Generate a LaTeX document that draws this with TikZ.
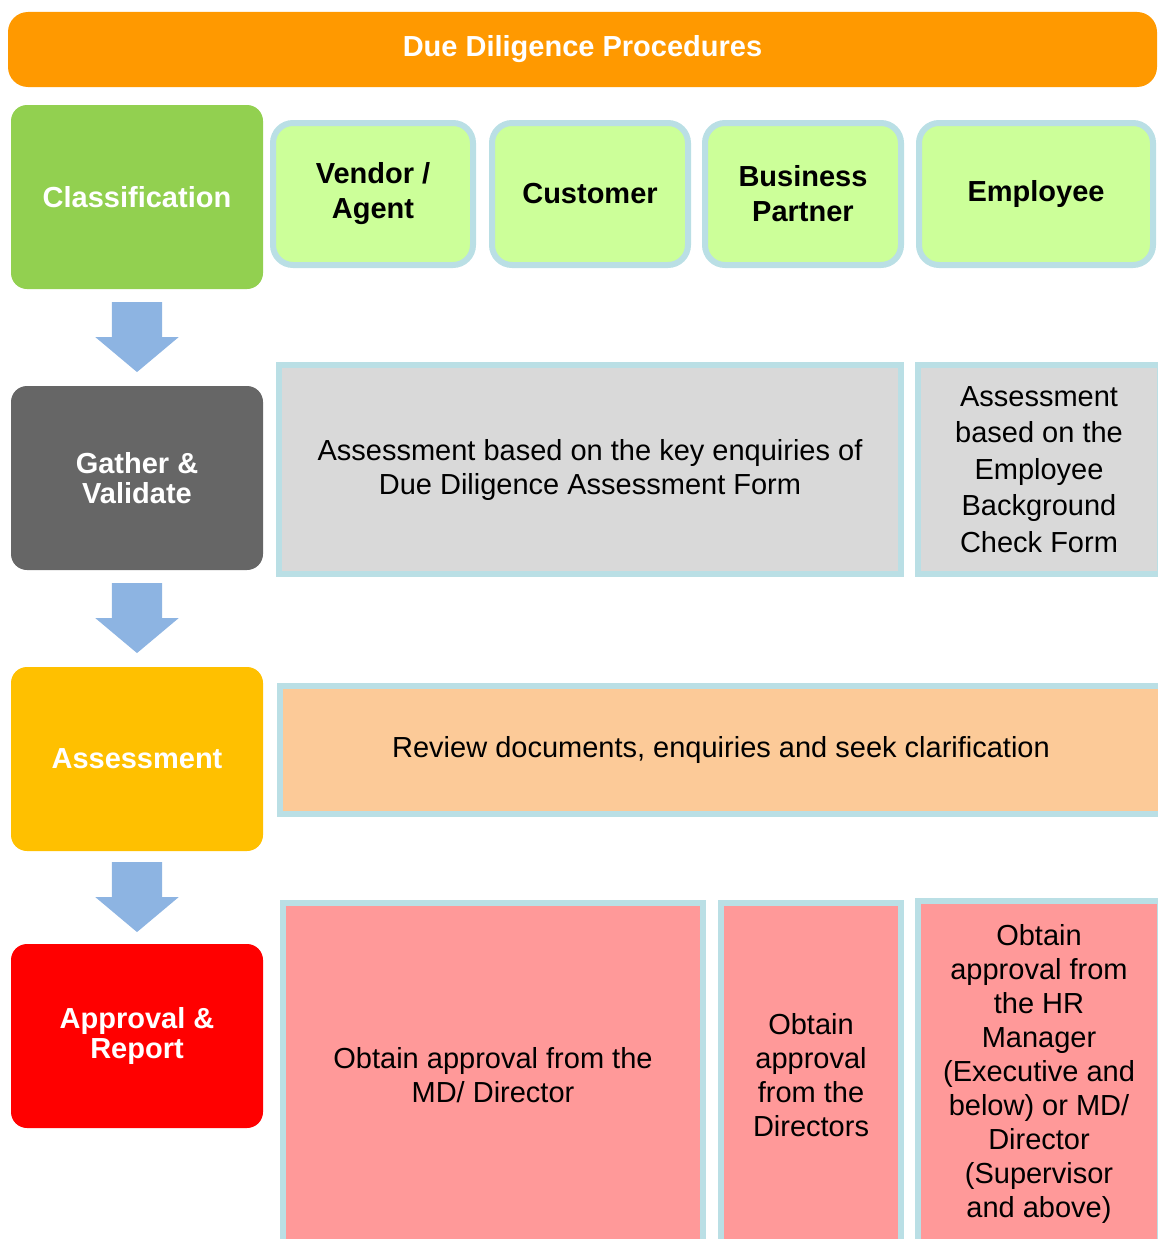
\documentclass[tikz,border=0pt]{standalone}
\usepackage{fontspec}
\setmainfont{Liberation Sans}
\usetikzlibrary{shapes.arrows,calc}

\definecolor{bannerorange}{RGB}{255,153,0}
\definecolor{stagegreen}{RGB}{146,208,80}
\definecolor{stagegrey}{RGB}{102,102,102}
\definecolor{stageamber}{RGB}{255,192,0}
\definecolor{stagered}{RGB}{255,0,0}
\definecolor{kindgreen}{RGB}{204,255,153}
\definecolor{edgeblue}{RGB}{186,223,229}
\definecolor{taskgrey}{RGB}{217,217,217}
\definecolor{taskpeach}{RGB}{252,202,152}
\definecolor{taskpink}{RGB}{255,153,153}
\definecolor{flowblue}{RGB}{141,180,226}

\tikzstyle{banner} = [ fill=bannerorange,rounded corners=20pt,text=white,
                       font=\bfseries\fontsize{29}{34}\selectfont,
                       minimum width=1149pt,minimum height=75pt]
\tikzstyle{stage}  = [ rounded corners=16pt,text=white,align=center,inner sep=0pt,
                       font=\bfseries\fontsize{29}{30}\selectfont,
                       minimum width=252pt,minimum height=184pt]
\tikzstyle{kind}   = [ draw=edgeblue,line width=6pt,fill=kindgreen,rounded corners=20pt,
                       align=center,inner sep=0pt,minimum height=142pt,
                       font=\bfseries\fontsize{29}{35}\selectfont]
\tikzstyle{task}   = [ draw=edgeblue,line width=6pt,align=center,inner sep=0pt,
                       font=\fontsize{29}{34}\selectfont]
\tikzstyle{flow}   = [ single arrow,fill=flowblue,rotate=-90,inner xsep=0pt,inner ysep=25pt,
                       minimum height=70pt,single arrow head extend=16.5pt,
                       single arrow tip angle=100]

\begin{document}
\begin{tikzpicture}[x=1pt,y=-1pt]
  \useasboundingbox (0,0) rectangle (1158,1239);
  \clip (0,0) rectangle (1158,1239);

  \node[banner] at (582.5,49.5) (title) {Due Diligence Procedures};

  \node[stage,fill=stagegreen] at (137,197)  (cls) {Classification};
  \node[stage,fill=stagegrey]  at (137,478)  (gat) {Gather \&\\ Validate};
  \node[stage,fill=stageamber] at (137,759)  (asm) {Assessment};
  \node[stage,fill=stagered]   at (137,1036) (apr) {Approval \&\\ Report};

  \node[kind,minimum width=200pt] at (373,194)  (ven) {Vendor /\\ Agent};
  \node[kind,minimum width=196pt] at (590,194)  (cus) {Customer};
  \node[kind,minimum width=196pt] at (803,194)  (bus) {Business\\ Partner};
  \node[kind,minimum width=234pt] at (1036,194) (emp) {Employee};

  \node[task,fill=taskgrey,minimum width=622pt,minimum height=209pt] at (590,469.5) (form)
       {Assessment based on the key enquiries of\\ Due Diligence Assessment Form};
  \node[task,fill=taskgrey,minimum width=242pt,minimum height=209pt,
        font=\fontsize{29}{36.5}\selectfont] at (1039,469.5) (check)
       {Assessment\\ based on the\\ Employee\\ Background\\ Check Form};

  \node[task,fill=taskpeach,minimum width=882pt,minimum height=128pt] at (721,750) (review)
       {Review documents, enquiries and seek clarification};

  \node[task,fill=taskpink,minimum width=420pt,minimum height=344pt] at (493,1075) (md)
       {Obtain approval from the\\ MD/ Director};
  \node[task,fill=taskpink,minimum width=180pt,minimum height=344pt] at (811,1075) (dir)
       {Obtain\\ approval\\ from the\\ Directors};
  \node[task,fill=taskpink,minimum width=242pt,minimum height=346pt] at (1039,1074) (hr)
       {Obtain\\ approval from\\ the HR\\ Manager\\ (Executive and\\ below) or MD/\\ Director\\ (Supervisor\\ and above)};

  % block arrows between the stages
  \node[flow] at ($(cls.south)!0.5!(gat.north)+(0,-11)$) (a1) {};
  \node[flow] at ($(gat.south)!0.5!(asm.north)+(0,-11)$) (a2) {};
  \node[flow] at ($(asm.south)!0.5!(apr.north)+(0,-11)$) (a3) {};
\end{tikzpicture}
\end{document}
